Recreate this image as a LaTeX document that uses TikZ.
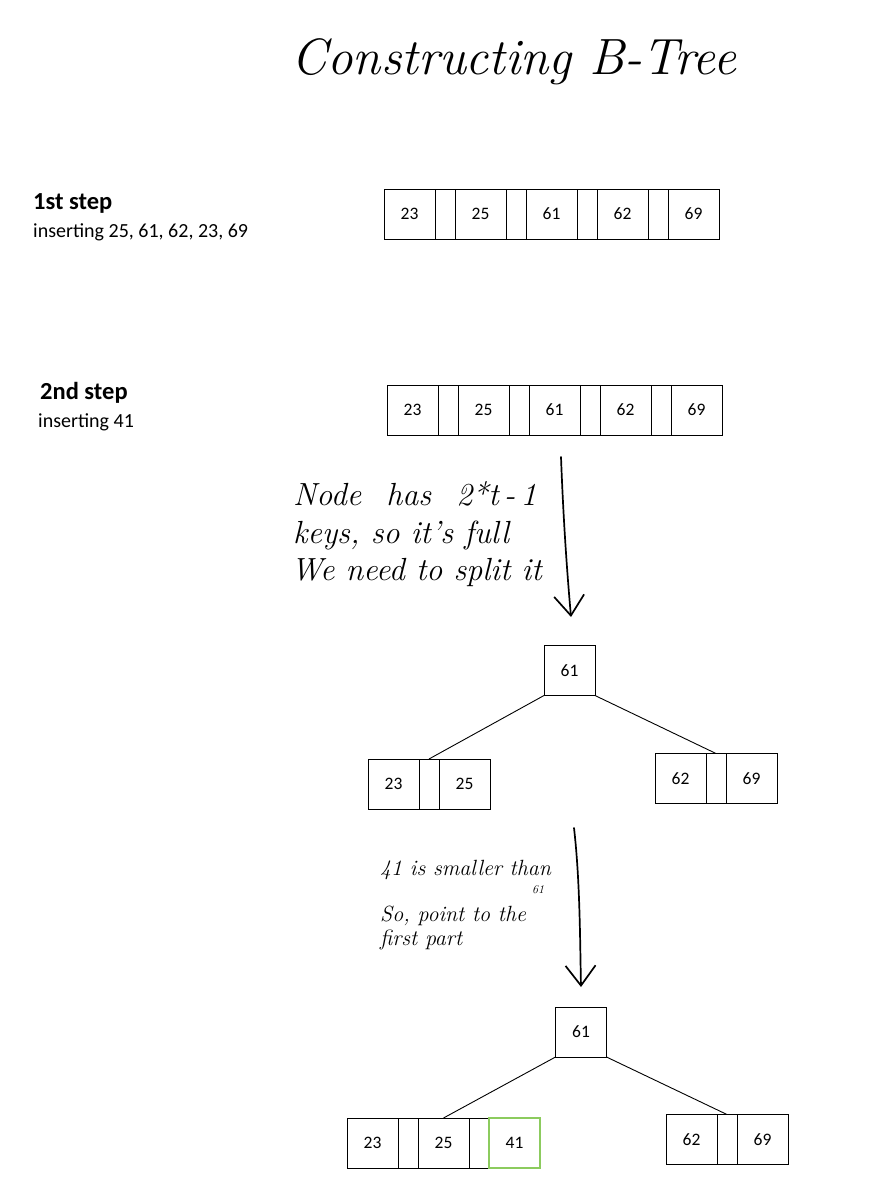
\documentclass[tikz,border=0pt]{standalone}
\usepackage{fontspec}
\newfontfamily\carlito{Carlito}
\usetikzlibrary{positioning,arrows.meta}
\definecolor{leafgreen}{HTML}{8CCB5E}
\tikzset{
  cell/.style={draw=black, line width=0.9pt, outer sep=0pt, inner sep=0pt,
    minimum height=50pt, font=\carlito\fontsize{17.5}{17.5}\selectfont},
  keycell/.style={cell, minimum width=51pt},
  ptrcell/.style={cell, minimum width=20pt},
  newcell/.style={keycell, draw=leafgreen, line width=2.2pt},
  treeedge/.style={draw=black, line width=0.9pt},
  handbig/.style={font=\itshape\fontsize{32}{32}\selectfont, anchor=base west, inner sep=0pt},
  handsmall/.style={font=\itshape\fontsize{22}{22}\selectfont, anchor=base west, inner sep=0pt},
  handarrow/.style={line width=1.7pt, line cap=round,
    -{Straight Barb[length=20pt, width=30pt, line width=1.7pt]}},
  heading/.style={font=\carlito\bfseries\fontsize{24.5}{24.5}\selectfont, anchor=west, inner sep=0pt},
  subheading/.style={font=\carlito\fontsize{20}{20}\selectfont, anchor=west, inner sep=0pt},
}
\begin{document}
\begin{tikzpicture}[x=1pt,y=-1pt]
\useasboundingbox[fill=white] (0,0) rectangle (877,1204);

% title
\node[font=\itshape\fontsize{51}{51}\selectfont, inner sep=0pt] (title) at (514,62) {Constructing B-Tree};

% step 1
\node[heading] (h1) at (33,203) {1st step};
\node[subheading] (h1s) at (33,232) {inserting 25, 61, 62, 23, 69};
\node[keycell, anchor=west] (s1k1) at (384,214) {23};
\node[ptrcell, right=0pt of s1k1] (s1p1) {};
\node[keycell, right=0pt of s1p1] (s1k2) {25};
\node[ptrcell, right=0pt of s1k2] (s1p2) {};
\node[keycell, right=0pt of s1p2] (s1k3) {61};
\node[ptrcell, right=0pt of s1k3] (s1p3) {};
\node[keycell, right=0pt of s1p3] (s1k4) {62};
\node[ptrcell, right=0pt of s1k4] (s1p4) {};
\node[keycell, right=0pt of s1p4] (s1k5) {69};

% step 2
\node[heading] (h2) at (40,393) {2nd step};
\node[subheading] (h2s) at (38,422) {inserting 41};
\node[keycell, anchor=west] (s2k1) at (387,410) {23};
\node[ptrcell, right=0pt of s2k1] (s2p1) {};
\node[keycell, right=0pt of s2p1] (s2k2) {25};
\node[ptrcell, right=0pt of s2k2] (s2p2) {};
\node[keycell, right=0pt of s2p2] (s2k3) {61};
\node[ptrcell, right=0pt of s2k3] (s2p3) {};
\node[keycell, right=0pt of s2p3] (s2k4) {62};
\node[ptrcell, right=0pt of s2k4] (s2p4) {};
\node[keycell, right=0pt of s2p4] (s2k5) {69};

% handwritten note 1
\node[handbig] (n1a) at (293,505) {Node\hspace{14pt} has\hspace{14pt} 2*t\,-\,1};
\node[handbig] (n1b) at (293,543) {keys, so it's full};
\node[handbig] (n1c) at (291,580) {We need to split it};
\coordinate (a1s) at (561,457);
\coordinate (a1e) at (571,617);
\draw[handarrow] (a1s) .. controls (563,510) and (566,560) .. (a1e);

% tree 1
\node[keycell] (t1r) at (569.5,670.5) {61};
\node[keycell, anchor=west] (t1l1) at (368,784) {23};
\node[ptrcell, right=0pt of t1l1] (t1lp) {};
\node[keycell, right=0pt of t1lp] (t1l2) {25};
\node[keycell, anchor=west] (t1r1) at (655,778.5) {62};
\node[ptrcell, right=0pt of t1r1] (t1rp) {};
\node[keycell, right=0pt of t1rp] (t1r2) {69};
\draw[treeedge] (t1r.south west) -- (t1lp.north);
\draw[treeedge] (t1r.south east) -- (t1rp.north);

% handwritten note 2
\node[handsmall] (n2a) at (380,875) {41 is smaller than};
\node[font=\itshape\fontsize{12}{12}\selectfont, anchor=base west, inner sep=0pt] (n2b) at (532,893) {61};
\node[handsmall] (n2c) at (380,921) {So, point to the};
\node[handsmall] (n2d) at (380,945) {first part};
\coordinate (a2s) at (574,828);
\coordinate (a2e) at (581,987);
\draw[handarrow] (a2s) .. controls (580,880) and (580,940) .. (a2e);

% tree 2
\node[keycell] (t2r) at (581,1032) {61};
\node[keycell, anchor=west] (t2l1) at (347,1143) {23};
\node[ptrcell, right=0pt of t2l1] (t2lp1) {};
\node[keycell, right=0pt of t2lp1] (t2l2) {25};
\node[ptrcell, right=0pt of t2l2] (t2lp2) {};
\node[newcell, right=0pt of t2lp2] (t2l3) {41};
\node[keycell, anchor=west] (t2r1) at (666,1139.5) {62};
\node[ptrcell, right=0pt of t2r1] (t2rp) {};
\node[keycell, right=0pt of t2rp] (t2r2) {69};
\draw[treeedge] (t2r.south west) -- (t2l2.north);
\draw[treeedge] (t2r.south east) -- (t2rp.north);
\end{tikzpicture}
\end{document}
